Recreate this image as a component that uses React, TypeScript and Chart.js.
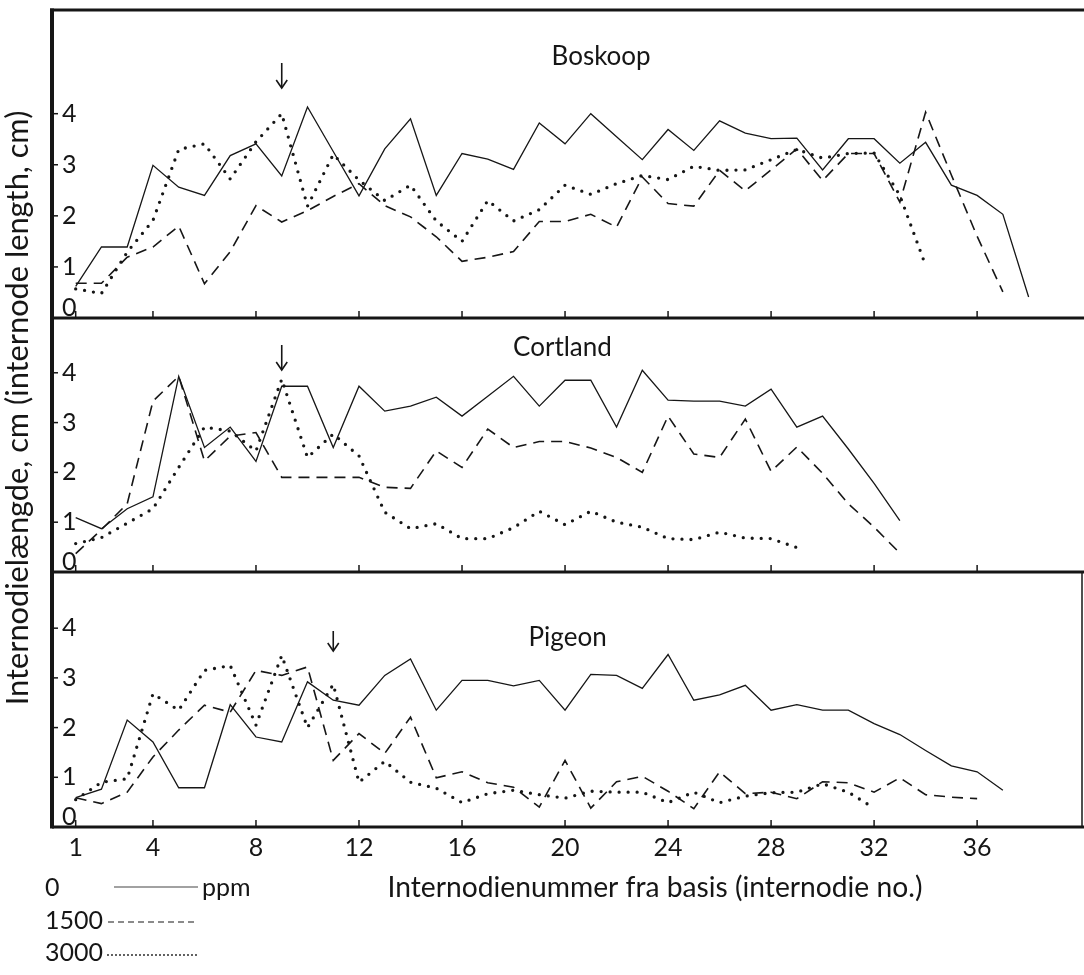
import React, { useEffect, useRef } from 'react';
import { Chart, registerables } from 'chart.js';

Chart.register(...registerables);

// ---------- data ----------
const internodes = [1, 2, 3, 4, 5, 6, 7, 8, 9, 10, 11, 12, 13, 14, 15, 16, 17, 18, 19, 20, 21, 22, 23, 24, 25, 26, 27, 28, 29, 30, 31, 32, 33, 34, 35, 36, 37, 38];
const xTickValues = [1, 4, 8, 12, 16, 20, 24, 28, 32, 36];
const yTickValues = [1, 2, 3, 4];
const cultivars = ['Boskoop', 'Cortland', 'Pigeon'];
const concentrations = ['0', '1500', '3000'];
const arrowInternode = [9, 9, 11];

const boskoop0 = [0.62, 1.39, 1.39, 2.99, 2.56, 2.4, 3.18, 3.41, 2.78, 4.13, 3.26, 2.39, 3.31, 3.9, 2.4, 3.22, 3.11, 2.91, 3.82, 3.41, 4.0, 3.55, 3.1, 3.69, 3.28, 3.86, 3.62, 3.51, 3.52, 2.9, 3.51, 3.51, 3.03, 3.44, 2.6, 2.4, 2.03, 0.41];
const boskoop1500 = [0.68, 0.68, 1.19, 1.39, 1.8, 0.67, 1.3, 2.2, 1.88, 2.1, 2.38, 2.63, 2.2, 1.98, 1.59, 1.11, 1.19, 1.3, 1.89, 1.89, 2.03, 1.78, 2.76, 2.24, 2.19, 2.89, 2.49, 2.9, 3.31, 2.69, 3.22, 3.22, 2.27, 4.03, 2.8, 1.6, 0.51];
const boskoop3000 = [0.57, 0.48, 1.29, 1.91, 3.3, 3.41, 2.72, 3.45, 4.0, 2.19, 3.2, 2.7, 2.3, 2.6, 1.9, 1.5, 2.3, 1.9, 2.12, 2.6, 2.42, 2.63, 2.79, 2.71, 2.97, 2.89, 2.9, 3.1, 3.3, 3.13, 3.22, 3.23, 2.4, 1.03];

const cortland0 = [1.09, 0.87, 1.27, 1.51, 3.93, 2.5, 2.91, 2.22, 3.73, 3.73, 2.5, 3.73, 3.23, 3.33, 3.51, 3.13, 3.53, 3.93, 3.33, 3.85, 3.85, 2.91, 4.05, 3.45, 3.43, 3.43, 3.33, 3.67, 2.91, 3.13, 2.47, 1.78, 1.03];
const cortland1500 = [0.37, 0.85, 1.37, 3.43, 3.93, 2.23, 2.73, 2.8, 1.9, 1.9, 1.9, 1.9, 1.7, 1.68, 2.43, 2.1, 2.87, 2.5, 2.62, 2.62, 2.49, 2.3, 2.0, 3.13, 2.37, 2.3, 3.07, 2.02, 2.51, 1.98, 1.37, 0.9, 0.38];
const cortland3000 = [0.57, 0.69, 0.98, 1.27, 2.1, 2.91, 2.83, 2.43, 3.87, 2.3, 2.77, 2.33, 1.2, 0.87, 0.97, 0.67, 0.67, 0.89, 1.22, 0.95, 1.22, 1.0, 0.9, 0.67, 0.65, 0.8, 0.68, 0.67, 0.49];

const pigeon0 = [0.59, 0.76, 2.15, 1.71, 0.79, 0.79, 2.46, 1.81, 1.71, 2.92, 2.55, 2.45, 3.05, 3.38, 2.35, 2.95, 2.95, 2.84, 2.95, 2.35, 3.07, 3.05, 2.79, 3.47, 2.55, 2.66, 2.85, 2.35, 2.46, 2.35, 2.35, 2.08, 1.86, 1.54, 1.23, 1.11, 0.74];
const pigeon1500 = [0.59, 0.47, 0.7, 1.41, 1.95, 2.45, 2.31, 3.15, 3.05, 3.22, 1.34, 1.88, 1.48, 2.21, 0.99, 1.11, 0.89, 0.8, 0.4, 1.34, 0.38, 0.91, 1.02, 0.72, 0.37, 1.11, 0.67, 0.7, 0.57, 0.91, 0.89, 0.7, 0.99, 0.65, 0.6, 0.57];
const pigeon3000 = [0.55, 0.9, 0.97, 2.68, 2.35, 3.15, 3.25, 2.05, 3.45, 2.0, 2.87, 0.9, 1.32, 0.9, 0.78, 0.49, 0.67, 0.74, 0.65, 0.58, 0.72, 0.7, 0.7, 0.49, 0.7, 0.49, 0.62, 0.69, 0.7, 0.87, 0.7, 0.38];

const panelSeries = [
  [boskoop0, boskoop1500, boskoop3000],
  [cortland0, cortland1500, cortland3000],
  [pigeon0, pigeon1500, pigeon3000],
];

// ---------- styling / layout ----------
const FONT = 'Lato, "Open Sans", "DejaVu Sans", sans-serif';
const INK = '#161616';
const AXIS_IDS = ['yB', 'yC', 'yP'];
const PANEL_MAX = [6.03, 5.1, 5.13];
const PANEL_WEIGHT = [308, 254, 255];
const TITLE_X = [21.4, 19.9, 20.1];
const TITLE_DY = [47, 30, 66];
const ARROW_TIP_DY = [78, 52, 79];
const ARROW_LEN = [25, 25, 20];
const LINE_STYLES = [
  { width: 1.3, dash: [] as number[], cap: 'butt' },
  { width: 1.6, dash: [11, 7], cap: 'butt' },
  { width: 3.3, dash: [0, 9], cap: 'round' },
];

function fitFont(ctx: CanvasRenderingContext2D, text: string, width: number) {
  ctx.font = `100px ${FONT}`;
  const w = ctx.measureText(text).width;
  return (100 * width) / w;
}

function seg(ctx: CanvasRenderingContext2D, x1: number, y1: number, x2: number, y2: number) {
  ctx.beginPath();
  ctx.moveTo(x1, y1);
  ctx.lineTo(x2, y2);
  ctx.stroke();
}

const framePlugin = {
  id: 'frame',
  afterDraw(chart: any) {
    const { ctx, chartArea, scales } = chart;
    const xs = scales.x;
    const { left, right, top, bottom } = chartArea;
    ctx.save();
    ctx.strokeStyle = INK;
    ctx.fillStyle = INK;
    ctx.lineCap = 'butt';
    ctx.setLineDash([]);

    // outer frame
    ctx.lineWidth = 4;
    seg(ctx, left, top - 1.5, left, bottom + 1.5);
    ctx.lineWidth = 3;
    seg(ctx, left - 2, top, right, top);

    AXIS_IDS.forEach((id, i) => {
      const s = scales[id];
      const y0 = s.getPixelForValue(0);
      ctx.lineWidth = 3;
      seg(ctx, left, y0, right, y0);
      ctx.lineWidth = 1.5;
      xs.ticks.forEach((t: any) => {
        const px = xs.getPixelForValue(t.value);
        seg(ctx, px, y0, px, y0 - 7);
      });
      s.ticks.forEach((t: any) => {
        const py = s.getPixelForValue(t.value);
        seg(ctx, left, py, left + 6, py);
      });
      // zero label sitting on the axis
      ctx.font = `25px ${FONT}`;
      ctx.textAlign = 'left';
      ctx.textBaseline = 'alphabetic';
      ctx.fillText('0', left + 10, y0 - 2);
      // panel title
      const ptop = s.top;
      ctx.font = `26px ${FONT}`;
      ctx.textAlign = 'center';
      ctx.textBaseline = 'middle';
      ctx.fillText(cultivars[i], xs.getPixelForValue(TITLE_X[i]), ptop + TITLE_DY[i]);
      // arrow
      const ax = xs.getPixelForValue(arrowInternode[i]);
      const tip = ptop + ARROW_TIP_DY[i];
      ctx.lineWidth = 1.6;
      seg(ctx, ax, tip - ARROW_LEN[i], ax, tip);
      ctx.beginPath();
      ctx.moveTo(ax - 5.5, tip - 8);
      ctx.lineTo(ax, tip);
      ctx.lineTo(ax + 5.5, tip - 8);
      ctx.stroke();
    });

    // right border of lowest panel
    const sp = scales.yP;
    ctx.lineWidth = 1.5;
    seg(ctx, right - 2, sp.top, right - 2, sp.bottom);

    // y title
    const yTitle = 'Internodielængde, cm (internode length, cm)';
    ctx.save();
    ctx.translate(18, 408);
    ctx.rotate(-Math.PI / 2);
    ctx.font = `${fitFont(ctx, yTitle, 595)}px ${FONT}`;
    ctx.textAlign = 'center';
    ctx.textBaseline = 'middle';
    ctx.fillText(yTitle, 0, 0);
    ctx.restore();

    // x title
    const xTitle = 'Internodienummer fra basis (internodie no.)';
    ctx.font = `${fitFont(ctx, xTitle, 535)}px ${FONT}`;
    ctx.textAlign = 'center';
    ctx.textBaseline = 'middle';
    ctx.fillText(xTitle, 655, 888);

    // legend
    const rows = [888, 921, 953];
    ctx.font = `25px ${FONT}`;
    ctx.textAlign = 'left';
    ctx.textBaseline = 'middle';
    concentrations.forEach((c, i) => {
      ctx.fillText(c, 45, rows[i]);
    });
    ctx.fillText('ppm', 202, rows[0]);
    ctx.strokeStyle = '#444';
    ctx.lineWidth = 1.1;
    seg(ctx, 114, rows[0] - 1, 198, rows[0] - 1);
    ctx.strokeStyle = INK;
    ctx.setLineDash([6, 4]);
    ctx.lineWidth = 1.2;
    seg(ctx, 108, rows[1] + 1, 198, rows[1] + 1);
    ctx.setLineDash([0, 4]);
    ctx.lineCap = 'round';
    ctx.lineWidth = 1.8;
    seg(ctx, 108, rows[2] + 2, 200, rows[2] + 2);
    ctx.restore();
  },
};

function yAxis(i: number) {
  return {
    type: 'linear',
    position: 'left',
    stack: 'panels',
    stackWeight: PANEL_WEIGHT[i],
    weight: 3 - i,
    min: 0,
    max: PANEL_MAX[i],
    grid: { display: false, drawTicks: false },
    border: { display: false },
    ticks: { mirror: true, padding: 10, color: INK, font: { family: FONT, size: 25 } },
    afterBuildTicks: (s: any) => {
      s.ticks = yTickValues.map((v) => ({ value: v }));
    },
    afterFit: (s: any) => {
      s.width = 0;
      s.paddingTop = 0;
      s.paddingBottom = 0;
      s.paddingLeft = 0;
      s.paddingRight = 0;
    },
  };
}

export default function App() {
  const ref = useRef<HTMLCanvasElement>(null);
  useEffect(() => {
    const canvas = ref.current;
    if (!canvas) return;
    const datasets: any[] = [];
    panelSeries.forEach((series, p) => {
      series.forEach((vals, c) => {
        const st = LINE_STYLES[c];
        datasets.push({
          label: `${cultivars[p]} ${concentrations[c]} ppm`,
          data: vals.map((v, k) => ({ x: internodes[k], y: v })),
          yAxisID: AXIS_IDS[p],
          borderColor: INK,
          borderWidth: st.width,
          borderDash: st.dash,
          borderCapStyle: st.cap,
          borderJoinStyle: 'miter',
          pointRadius: 0,
          fill: false,
          tension: 0,
        });
      });
    });
    const chart = new Chart(canvas, {
      type: 'line',
      data: { datasets },
      options: {
        responsive: false,
        animation: false,
        layout: { padding: { left: 52, top: 10, right: 0, bottom: 0 } },
        plugins: { legend: { display: false }, tooltip: { enabled: false }, title: { display: false } },
        scales: {
          x: {
            type: 'linear',
            min: 0.08,
            max: 40.15,
            grid: { display: false, drawTicks: false },
            border: { display: false },
            ticks: { padding: 6, color: INK, font: { family: FONT, size: 25 }, maxRotation: 0, autoSkip: false },
            afterBuildTicks: (s: any) => {
              s.ticks = xTickValues.map((v) => ({ value: v }));
            },
            afterFit: (s: any) => {
              s.height = 148;
              s.paddingLeft = 0;
              s.paddingRight = 0;
              s.paddingTop = 0;
              s.paddingBottom = 0;
            },
          },
          yP: yAxis(2),
          yC: yAxis(1),
          yB: yAxis(0),
        } as any,
      },
      plugins: [framePlugin],
    } as any);
    return () => chart.destroy();
  }, []);
  return (
    <div style={{ position: 'absolute', left: 0, top: 0, width: 1084, height: 975, background: '#fff' }}>
      <canvas ref={ref} width={1084} height={975} style={{ display: 'block', width: 1084, height: 975 }} />
    </div>
  );
}
